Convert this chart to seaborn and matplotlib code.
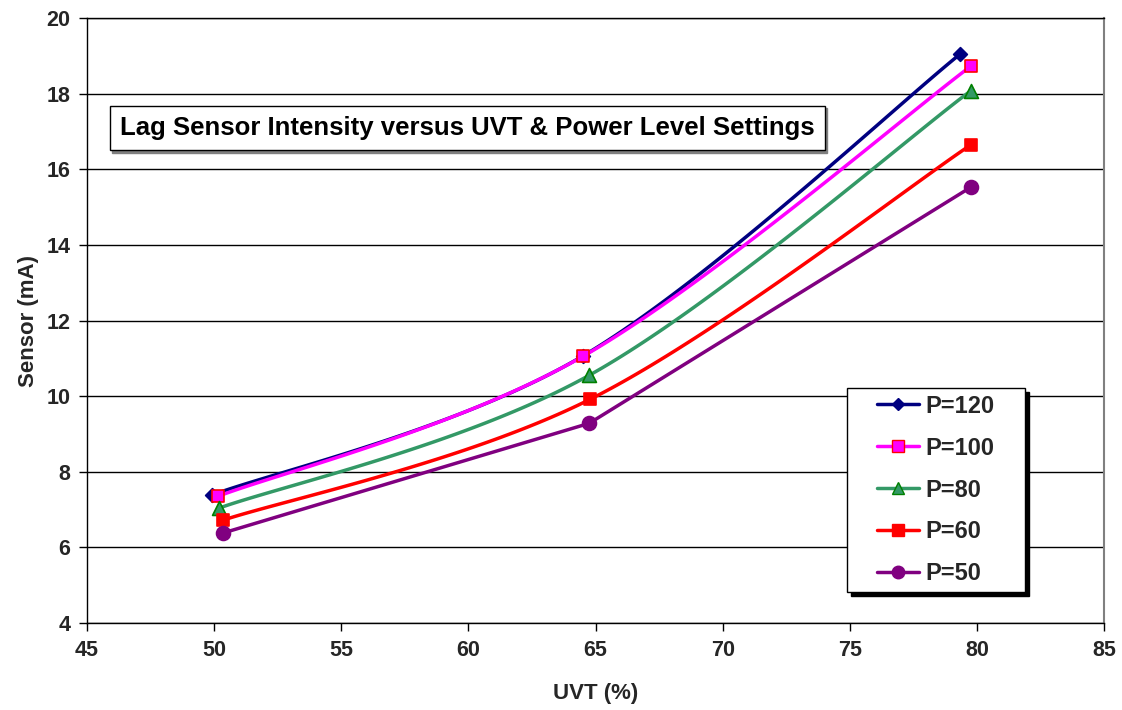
import numpy as np
import matplotlib
matplotlib.use("Agg")
import matplotlib.pyplot as plt
from matplotlib.patches import Rectangle
import seaborn as sns
import pandas as pd

sns.set_style("white")
plt.rcParams['font.family'] = ['Liberation Sans', 'DejaVu Sans']
plt.rcParams['font.weight'] = 'bold'

series_names = ["P=120", "P=100", "P=80", "P=60", "P=50"]
uvt_p120 = [49.9, 64.5, 79.35]
sensor_p120 = [7.38, 11.06, 19.05]
uvt_p100 = [50.15, 64.5, 79.75]
sensor_p100 = [7.35, 11.05, 18.72]
uvt_p80 = [50.2, 64.75, 79.75]
sensor_p80 = [7.04, 10.55, 18.07]
uvt_p60 = [50.35, 64.8, 79.75]
sensor_p60 = [6.72, 9.92, 16.64]
uvt_p50 = [50.35, 64.75, 79.75]
sensor_p50 = [6.38, 9.28, 15.52]

colors = ["#000080", "#FF00FF", "#339966", "#FF0000", "#800080"]
edgecolors = ["#000080", "#FF0000", "#008000", "#FF0000", "#800080"]
markers = ["D", "s", "^", "s", "o"]
msizes = [7, 9, 10, 9, 10]
smooth = [True, True, True, True, False]

xs = [uvt_p120, uvt_p100, uvt_p80, uvt_p60, uvt_p50]
ys = [sensor_p120, sensor_p100, sensor_p80, sensor_p60, sensor_p50]


def catmull_rom(x, y, n=60, tension=0.5):
    # Excel-like smoothed line rendering between the data points
    x = np.asarray(x, float); y = np.asarray(y, float)
    P = np.column_stack([x, y])
    P = np.vstack([P[0], P, P[-1]])
    out = []
    for i in range(1, len(P) - 2):
        p0, p1, p2, p3 = P[i - 1], P[i], P[i + 1], P[i + 2]
        m1 = (p2 - p0) * tension / 3
        m2 = (p3 - p1) * tension / 3
        t = np.linspace(0, 1, n)[:, None]
        c1 = p1 + m1
        c2 = p2 - m2
        seg = ((1 - t) ** 3) * p1 + 3 * ((1 - t) ** 2) * t * c1 + 3 * (1 - t) * t ** 2 * c2 + t ** 3 * p2
        out.append(seg if i == 1 else seg[1:])
    s = np.vstack(out)
    return s[:, 0], s[:, 1]


fig = plt.figure(figsize=(11.22, 7.10), dpi=100)
ax = fig.add_axes([87 / 1122, 1 - 623 / 710, (1104 - 87) / 1122, (623 - 18) / 710])

for i, name in enumerate(series_names):
    if smooth[i]:
        sx, sy = catmull_rom(xs[i], ys[i])
    else:
        sx, sy = np.asarray(xs[i]), np.asarray(ys[i])
    ax.plot(sx, sy, color=colors[i], lw=2.5, zorder=3)
    df = pd.DataFrame({"x": xs[i], "y": ys[i]})
    sns.scatterplot(data=df, x="x", y="y", ax=ax, marker=markers[i], s=msizes[i] ** 2,
                    color=colors[i], edgecolor=edgecolors[i], linewidth=1.2, zorder=4, legend=False)

ax.set_xlim(45, 85)
ax.set_ylim(4, 20)
ax.set_xticks(np.arange(45, 86, 5))
ax.set_yticks(np.arange(4, 21, 2))
ax.yaxis.grid(True, color="black", lw=1)
ax.set_axisbelow(True)
ax.tick_params(axis="both", direction="out", length=6, width=1, color="black",
               labelsize=15.5, pad=6, bottom=True, left=True)
for lab in ax.get_xticklabels() + ax.get_yticklabels():
    lab.set_fontweight("bold")
ax.set_xlabel("UVT (%)", fontsize=16, fontweight="bold", labelpad=16)
ax.set_ylabel("Sensor (mA)", fontsize=16, fontweight="bold", labelpad=5)
for sp in ["left", "bottom", "top"]:
    ax.spines[sp].set_color("black")
    ax.spines[sp].set_linewidth(1)
ax.spines["right"].set_color("#808080")
ax.spines["right"].set_linewidth(1.5)

# Title box with shadow
title = "Lag Sensor Intensity versus UVT & Power Level Settings"
ax.text(0.0325 + 0.002, 0.818 - 0.004, title,
        transform=ax.transAxes, fontsize=18.5, fontweight="bold", color="white", alpha=0, va="center",
        bbox=dict(boxstyle="square,pad=0.4", fc="#808080", ec="#808080"), zorder=5)
ax.text(0.0325, 0.818, title,
        transform=ax.transAxes, fontsize=18.5, fontweight="bold", color="black", va="center",
        bbox=dict(boxstyle="square,pad=0.4", fc="white", ec="black", lw=1), zorder=6)

# Legend frame (manual box with shadow)
x0, y0, w, h = (847 - 87) / 1017, (623 - 592) / 605, 178 / 1017, 204 / 605
ax.add_patch(Rectangle((x0 + 4 / 1017, y0 - 4 / 605), w, h, transform=ax.transAxes,
                       fc="black", ec="black", zorder=7, clip_on=False))
ax.add_patch(Rectangle((x0, y0), w, h, transform=ax.transAxes,
                       fc="white", ec="black", lw=1, zorder=8, clip_on=False))

handles = [plt.Line2D([], [], color=colors[i], lw=2.5, marker=markers[i], markersize=msizes[i] * 0.9,
                      markerfacecolor=colors[i], markeredgecolor=edgecolors[i]) for i in range(5)]
leg = ax.legend(handles, series_names, loc="center", bbox_to_anchor=(x0 + w / 2, y0 + h / 2),
                fontsize=17, frameon=False, borderpad=0, labelspacing=0.8,
                handlelength=1.75, handletextpad=0.3, borderaxespad=0)
leg.set_zorder(9)
for t in leg.get_texts():
    t.set_fontweight("bold")

fig.savefig("out.png", dpi=100, facecolor="white")
